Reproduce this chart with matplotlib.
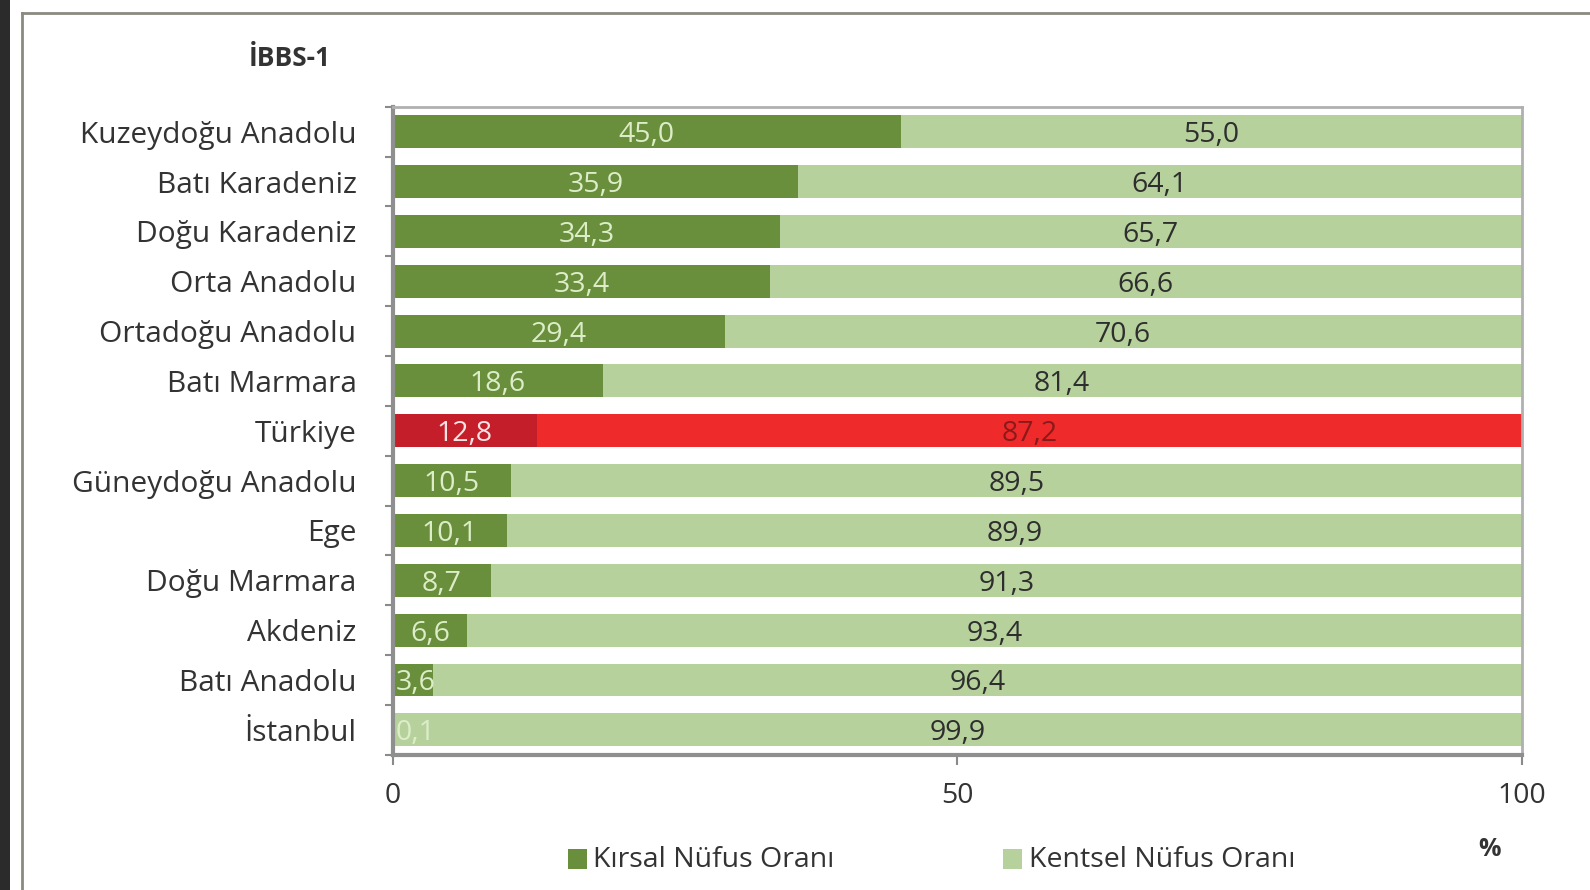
import numpy as np
import matplotlib.pyplot as plt
from matplotlib.patches import Rectangle

plt.rcParams['font.family'] = ['Open Sans', 'DejaVu Sans']

regions = ["Kuzeydoğu Anadolu", "Batı Karadeniz", "Doğu Karadeniz", "Orta Anadolu",
           "Ortadoğu Anadolu", "Batı Marmara", "Türkiye", "Güneydoğu Anadolu", "Ege",
           "Doğu Marmara", "Akdeniz", "Batı Anadolu", "İstanbul"]
kirsal = [45.0, 35.9, 34.3, 33.4, 29.4, 18.6, 12.8, 10.5, 10.1, 8.7, 6.6, 3.6, 0.1]
kentsel = [55.0, 64.1, 65.7, 66.6, 70.6, 81.4, 87.2, 89.5, 89.9, 91.3, 93.4, 96.4, 99.9]

dark_g = "#6a8f3c"
light_g = "#b6d19c"
dark_r = "#c41e2a"
light_r = "#ee2a2a"

fig = plt.figure(figsize=(15.9, 8.9), dpi=100)
fig.patch.set_facecolor("white")

# outer frame and dark strip on the left
fig.patches.append(Rectangle((0, 0), 0.006, 1, transform=fig.transFigure,
                             facecolor="#2b2b2b", edgecolor="none"))
fig.add_artist(plt.Line2D([0.014, 1.0], [0.985, 0.985], color="#8a8a80", lw=2))
fig.add_artist(plt.Line2D([0.014, 0.014], [0.0, 0.985], color="#8a8a80", lw=2))

ax = fig.add_axes([0.247, 0.152, 0.710, 0.728])
y = np.arange(len(regions))
h = 0.66

for i in range(len(regions)):
    c1, c2 = (dark_r, light_r) if regions[i] == "Türkiye" else (dark_g, light_g)
    ax.barh(y[i], kirsal[i], height=h, color=c1, edgecolor="none")
    ax.barh(y[i], kentsel[i], left=kirsal[i], height=h, color=c2, edgecolor="none")
    t1 = "#fbe3e3" if regions[i] == "Türkiye" else "#dcedc8"
    t2 = "#8a1a1a" if regions[i] == "Türkiye" else "#2e2e2e"
    ax.text(max(kirsal[i] / 2, 2.0), y[i], f"{kirsal[i]:.1f}".replace(".", ","),
            ha="center", va="center_baseline", fontsize=20.5, color=t1)
    ax.text(kirsal[i] + kentsel[i] / 2, y[i], f"{kentsel[i]:.1f}".replace(".", ","),
            ha="center", va="center_baseline", fontsize=20.5, color=t2)

ax.set_xlim(0, 100)
ax.set_ylim(len(regions) - 0.5, -0.5)
ax.set_xticks([0, 50, 100])
ax.set_xticklabels(["0", "50", "100"], fontsize=20.5, color="#333333")
ax.set_yticks(y)
ax.set_yticklabels(regions, fontsize=21.5, color="#333333")
ax.set_yticks(np.arange(-0.5, len(regions), 1), minor=True)
ax.tick_params(axis="y", which="major", length=0, pad=26)
ax.tick_params(axis="y", which="minor", length=6, width=1.5, color="#8a8a8a", direction="out")
ax.tick_params(axis="x", length=7, width=1.5, color="#8a8a8a", pad=13)

for s in ["left", "bottom"]:
    ax.spines[s].set_color("#8f8f8f")
    ax.spines[s].set_linewidth(3)
for s in ["top", "right"]:
    ax.spines[s].set_color("#b0b0b0")
    ax.spines[s].set_linewidth(2)

fig.text(0.182, 0.934, "İBBS-1", fontsize=19, fontweight="bold", color="#333333",
         ha="center", va="center")

# legend
fig.patches.append(Rectangle((0.357, 0.024), 0.012, 0.022, transform=fig.transFigure,
                             facecolor=dark_g, edgecolor="none"))
fig.text(0.373, 0.034, "Kırsal Nüfus Oranı", fontsize=20.5, color="#333333", va="center")
fig.patches.append(Rectangle((0.631, 0.024), 0.012, 0.022, transform=fig.transFigure,
                             facecolor=light_g, edgecolor="none"))
fig.text(0.647, 0.034, "Kentsel Nüfus Oranı", fontsize=20.5, color="#333333", va="center")
fig.text(0.937, 0.046, "%", fontsize=18, fontweight="bold", color="#333333",
         ha="center", va="center")

fig.savefig("out.png", dpi=100)
